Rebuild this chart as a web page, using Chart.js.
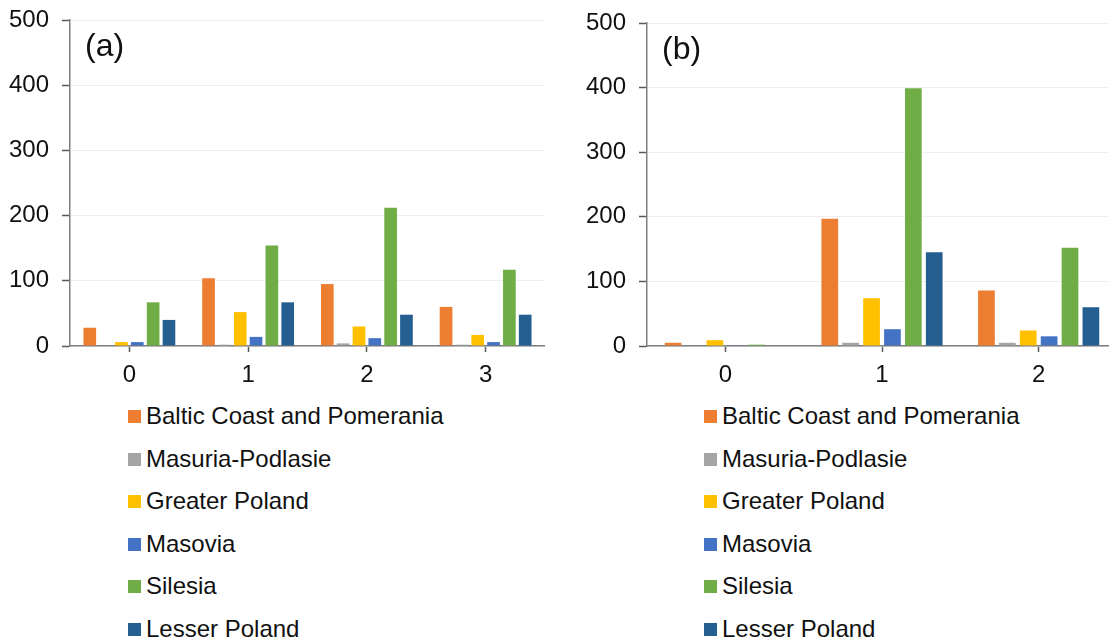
<!DOCTYPE html>
<html>
<head>
<meta charset="utf-8">
<script src="https://cdn.jsdelivr.net/npm/chart.js@4.4.1/dist/chart.umd.min.js"></script>
<style>
    html, body { margin: 0; padding: 0; background: #fff; overflow: hidden; }
    body { width: 1109px; height: 644px; position: relative; font-family: "Liberation Sans", Arial, sans-serif; }
    canvas { position: absolute; top: 0; }
    #graficoA { left: 0; }
    #graficoB { left: 577px; }
    .legenda { position: absolute; top: 0; }
    .itemLegenda { position: absolute; white-space: nowrap; font-size: 24px; color: #111; line-height: 28px; height: 28px; }
    .caixa { position: absolute; width: 13px; height: 13px; top: 8px; left: 0; }
    .texto { position: absolute; top: 0; left: 18px; }
</style>
</head>
<body>
<canvas id="graficoA" width="545" height="400"></canvas>
<canvas id="graficoB" width="540" height="400"></canvas>
<div class="legenda" id="legendaA"></div>
<div class="legenda" id="legendaB"></div>
<script>
const regioes = ['Baltic Coast and Pomerania', 'Masuria-Podlasie', 'Greater Poland', 'Masovia', 'Silesia', 'Lesser Poland'];
const cores = ['#ED7D31', '#A5A5A5', '#FFC000', '#4472C4', '#70AD47', '#255E91'];

// painel (a)
const categoriasA = ['0', '1', '2', '3'];
const balticA = [28, 104, 95, 60];
const masuriaA = [0, 2, 4, 2];
const greaterA = [6, 52, 30, 17];
const masoviaA = [6, 14, 12, 6];
const silesiaA = [67, 154, 212, 117];
const lesserA = [40, 67, 48, 48];

// painel (b)
const categoriasB = ['0', '1', '2'];
const balticB = [5, 197, 86];
const masuriaB = [0, 5, 5];
const greaterB = [9, 74, 24];
const masoviaB = [1, 26, 15];
const silesiaB = [2, 399, 152];
const lesserB = [0, 145, 60];

const yTicks = [0, 100, 200, 300, 400, 500];
const fonte = "'Liberation Sans', Arial, sans-serif";

const rotuloPainel = {
    id: 'rotuloPainel',
    afterDraw(chart, args, opts) {
        const ctx = chart.ctx;
        ctx.save();
        ctx.font = `32px ${fonte}`;
        ctx.fillStyle = '#111';
        ctx.textBaseline = 'top';
        ctx.fillText(opts.texto, chart.chartArea.left + opts.dx, chart.chartArea.top + opts.dy);
        ctx.restore();
    }
};

function montarDatasets(series) {
    return series.map((valores, i) => ({
        label: regioes[i],
        data: valores,
        backgroundColor: cores[i],
        borderWidth: 0,
        categoryPercentage: 0.8,
        barPercentage: 0.8
    }));
}

function semPadding(s) {
    s.paddingTop = 0;
    s.paddingBottom = 0;
    s.paddingLeft = 0;
    s.paddingRight = 0;
}

function criarGrafico(id, categorias, series, texto, padTop) {
    const ctx = document.getElementById(id).getContext('2d');
    return new Chart(ctx, {
        type: 'bar',
        data: { labels: categorias, datasets: montarDatasets(series) },
        options: {
            responsive: false,
            animation: false,
            layout: { padding: { top: padTop, right: 0, bottom: 0, left: 0 } },
            scales: {
                x: {
                    afterFit: (s) => { s.height = 54; semPadding(s); },
                    grid: { offset: false, drawOnChartArea: false, tickLength: 6, tickColor: '#595959', tickWidth: 1.5 },
                    border: { color: '#7f7f7f', width: 1.5 },
                    ticks: { color: '#111', font: { family: fonte, size: 24 }, padding: 9 }
                },
                y: {
                    min: 0,
                    max: 500,
                    afterFit: (s) => { s.width = 70; semPadding(s); },
                    afterBuildTicks: (s) => { s.ticks = yTicks.map(v => ({ value: v })); },
                    grid: { color: '#efefef', lineWidth: 1, tickLength: 8, tickColor: '#595959', tickWidth: 1.5 },
                    border: { color: '#7f7f7f', width: 1.5 },
                    ticks: { color: '#111', font: { family: fonte, size: 24 }, padding: 13 }
                }
            },
            plugins: {
                legend: { display: false },
                tooltip: { enabled: false },
                rotuloPainel: { texto: texto, dx: 15, dy: 11 }
            }
        },
        plugins: [rotuloPainel]
    });
}

function montarLegenda(id, esquerda) {
    const el = document.getElementById(id);
    regioes.forEach((nome, i) => {
        const item = document.createElement('div');
        item.className = 'itemLegenda';
        item.style.left = esquerda + 'px';
        item.style.top = (402 + i * 42.6) + 'px';
        item.innerHTML = `<span class="caixa" style="background:${cores[i]}"></span><span class="texto">${nome}</span>`;
        el.appendChild(item);
    });
}

criarGrafico('graficoA', categoriasA, [balticA, masuriaA, greaterA, masoviaA, silesiaA, lesserA], '(a)', 20);
criarGrafico('graficoB', categoriasB, [balticB, masuriaB, greaterB, masoviaB, silesiaB, lesserB], '(b)', 23);
montarLegenda('legendaA', 128);
montarLegenda('legendaB', 704);
</script>
</body>
</html>
